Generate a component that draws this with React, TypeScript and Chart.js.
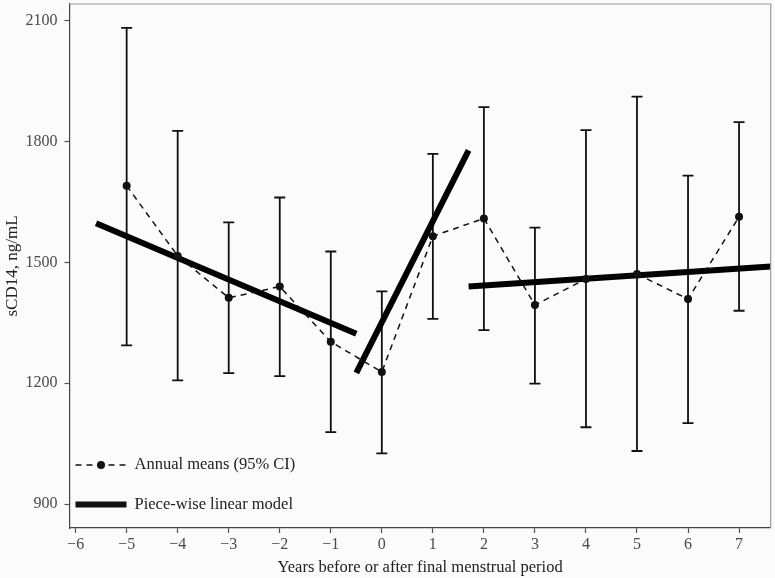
import React, { useEffect, useRef } from "react";
import { Chart, registerables } from "chart.js";

Chart.register(...registerables);

const years = [-5, -4, -3, -2, -1, 0, 1, 2, 3, 4, 5, 6, 7];
const means = [1690, 1516, 1412, 1440, 1303, 1228, 1565, 1609, 1394, 1459, 1471, 1409, 1613];
const lowerCI = [1294, 1207, 1225, 1218, 1079, 1026, 1360, 1332, 1199, 1091, 1032, 1101, 1380];
const upperCI = [2082, 1826, 1599, 1661, 1527, 1428, 1769, 1885, 1586, 1828, 1911, 1715, 1848];

const segment1X = [-5.6, -0.5];
const segment1Y = [1597, 1323];
const segment2X = [-0.5, 1.7];
const segment2Y = [1226, 1778];
const segment3X = [1.7, 7.62];
const segment3Y = [1440, 1490];

const xTicks = [-6, -5, -4, -3, -2, -1, 0, 1, 2, 3, 4, 5, 6, 7];
const yTicks = [900, 1200, 1500, 1800, 2100];

const legendLabels = ["Annual means (95% CI)", "Piece-wise linear model"];
const xTitle = "Years before or after final menstrual period";
const yTitle = "sCD14, ng/mL";

const FONT = "'Liberation Serif', 'Times New Roman', serif";

const pts = (xs: number[], ys: number[]) => xs.map((x, i) => ({ x, y: ys[i] }));

export default function App() {
  const ref = useRef<HTMLCanvasElement | null>(null);

  useEffect(() => {
    const canvas = ref.current;
    if (!canvas) return;

    const bgPlugin = {
      id: "bg",
      beforeDraw(chart: any) {
        const { ctx, width, height } = chart;
        ctx.save();
        ctx.fillStyle = "#fbfbfb";
        ctx.fillRect(0, 0, width, height);
        ctx.restore();
      },
      afterDraw(chart: any) {
        const { ctx, chartArea } = chart;
        const { left, right, top, bottom } = chartArea;
        ctx.save();
        ctx.strokeStyle = "#9a9a9a";
        ctx.lineWidth = 1.2;
        ctx.beginPath();
        ctx.moveTo(left, top);
        ctx.lineTo(right, top);
        ctx.lineTo(right, bottom);
        ctx.stroke();
        // legend
        const lx0 = left + 6;
        const lx1 = left + 57;
        const y1 = bottom - 63;
        const y2 = bottom - 23.5;
        ctx.strokeStyle = "#111";
        ctx.lineWidth = 1.5;
        ctx.setLineDash([6, 5]);
        ctx.beginPath();
        ctx.moveTo(lx0, y1);
        ctx.lineTo(lx1, y1);
        ctx.stroke();
        ctx.setLineDash([]);
        ctx.fillStyle = "#111";
        ctx.beginPath();
        ctx.arc((lx0 + lx1) / 2, y1, 4, 0, Math.PI * 2);
        ctx.fill();
        ctx.lineWidth = 6;
        ctx.lineCap = "butt";
        ctx.beginPath();
        ctx.moveTo(lx0, y2);
        ctx.lineTo(lx1, y2);
        ctx.stroke();
        ctx.fillStyle = "#222";
        ctx.font = `16.5px ${FONT}`;
        ctx.textBaseline = "middle";
        ctx.textAlign = "left";
        ctx.fillText(legendLabels[0], left + 65, y1);
        ctx.fillText(legendLabels[1], left + 65, y2);
        ctx.restore();
      },
    };

    const errorBarPlugin = {
      id: "errorBars",
      beforeDatasetsDraw(chart: any) {
        const { ctx, scales } = chart;
        const xs = scales.x;
        const ys = scales.y;
        ctx.save();
        ctx.strokeStyle = "#111";
        ctx.lineWidth = 1.8;
        ctx.lineCap = "butt";
        years.forEach((yr, i) => {
          const px = xs.getPixelForValue(yr);
          const pLo = ys.getPixelForValue(lowerCI[i]);
          const pHi = ys.getPixelForValue(upperCI[i]);
          ctx.beginPath();
          ctx.moveTo(px, pLo);
          ctx.lineTo(px, pHi);
          ctx.moveTo(px - 5.5, pLo);
          ctx.lineTo(px + 5.5, pLo);
          ctx.moveTo(px - 5.5, pHi);
          ctx.lineTo(px + 5.5, pHi);
          ctx.stroke();
        });
        ctx.restore();
      },
    };

    const segStyle = {
      borderColor: "#000",
      borderWidth: 6,
      pointRadius: 0,
      borderCapStyle: "butt",
      fill: false,
      clip: 0,
    };

    const chart = new Chart(canvas, {
      type: "line",
      data: {
        datasets: [
          {
            label: legendLabels[0],
            data: pts(years, means),
            borderColor: "#111",
            backgroundColor: "#111",
            borderWidth: 1.5,
            borderDash: [6, 5],
            pointRadius: 4,
            pointBorderWidth: 0,
            fill: false,
          },
          { label: legendLabels[1], data: pts(segment1X, segment1Y), ...segStyle } as any,
          { label: legendLabels[1] + " 2", data: pts(segment2X, segment2Y), ...segStyle } as any,
          { label: legendLabels[1] + " 3", data: pts(segment3X, segment3Y), ...segStyle } as any,
        ],
      },
      options: {
        animation: false,
        responsive: false,
        maintainAspectRatio: false,
        layout: { padding: { top: 4, right: 4.3, left: 0, bottom: 0 } },
        plugins: { legend: { display: false }, tooltip: { enabled: false } },
        scales: {
          x: {
            type: "linear",
            min: -6.12,
            max: 7.62,
            afterBuildTicks: (s: any) => {
              s.ticks = xTicks.map((v) => ({ value: v }));
            },
            afterFit: (s: any) => {
              s.height = 50;
              s.paddingLeft = 0;
              s.paddingRight = 0;
            },
            ticks: {
              font: { family: FONT, size: 16 },
              color: "#4a4a4a",
              padding: 2,
              maxRotation: 0,
              autoSkip: false,
              callback: (v: any) => String(v).replace("-", "\u2212"),
            },
            grid: { drawOnChartArea: false, drawTicks: true, tickLength: 5, tickColor: "#555", tickWidth: 1.2 },
            border: { display: true, color: "#444", width: 1.2 },
            title: {
              display: true,
              text: xTitle,
              font: { family: FONT, size: 16.5 },
              color: "#222",
              padding: { top: 0, bottom: 0 },
            },
          },
          y: {
            type: "linear",
            min: 841,
            max: 2141,
            afterBuildTicks: (s: any) => {
              s.ticks = yTicks.map((v) => ({ value: v }));
            },
            afterFit: (s: any) => {
              s.width = 69.5;
              s.paddingTop = 0;
              s.paddingBottom = 0;
            },
            ticks: {
              font: { family: FONT, size: 16 },
              color: "#4a4a4a",
              padding: 7,
              autoSkip: false,
              callback: (v: any) => String(v),
            },
            grid: { drawOnChartArea: false, drawTicks: true, tickLength: 5, tickColor: "#555", tickWidth: 1.2 },
            border: { display: true, color: "#444", width: 1.2 },
            title: {
              display: true,
              text: yTitle,
              font: { family: FONT, size: 17 },
              color: "#222",
              padding: { top: 2, bottom: 0 },
            },
          },
        },
      },
      plugins: [bgPlugin, errorBarPlugin],
    } as any);

    return () => chart.destroy();
  }, []);

  return (
    <div style={{ position: "absolute", left: 0, top: 0, width: 775, height: 578 }}>
      <canvas ref={ref} width={775} height={578} style={{ display: "block" }} />
    </div>
  );
}
